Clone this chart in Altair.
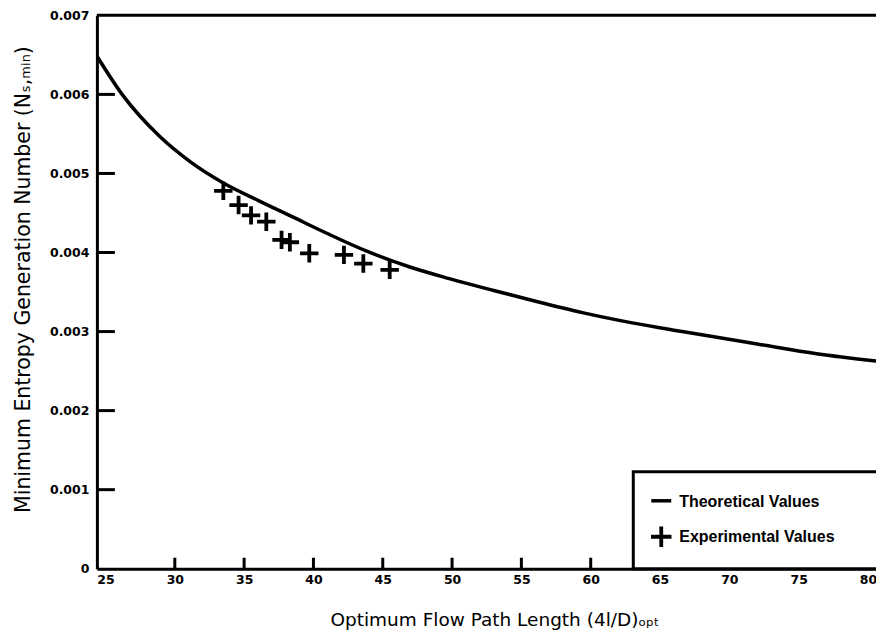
import altair as alt
import pandas as pd

# ---- data ----
theory_x = [24.4, 26.2, 28.9, 31.1, 33.5, 36.0, 38.5, 41.0, 43.8, 46.9,
            49.8, 53.0, 56.1, 59.4, 63.0, 66.6, 72.1, 76.3, 81.0]
theory_y = [0.00648, 0.00600, 0.00547, 0.00515, 0.00488, 0.00466, 0.00445,
            0.00424, 0.00402, 0.00382, 0.00367, 0.00352, 0.00338, 0.00324,
            0.00311, 0.00300, 0.00284, 0.00272, 0.00262]

exp_x = [33.5, 34.6, 35.5, 36.6, 37.7, 38.3, 39.7, 42.2, 43.6, 45.5]
exp_y = [0.00478, 0.00460, 0.00447, 0.00439, 0.00416, 0.00413, 0.00399,
         0.00397, 0.00386, 0.00378]

x_tick_labels = [25, 30, 35, 40, 45, 50, 55, 60, 65, 70, 75, 80]
x_tick_marks = [30, 35, 40, 45, 50, 55, 60, 65, 70, 75, 80]
y_tick_labels = [0, 0.001, 0.002, 0.003, 0.004, 0.005, 0.006, 0.007]
y_tick_marks = [0.001, 0.002, 0.003, 0.004, 0.005, 0.006]
legend_labels = ["Theoretical Values", "Experimental Values"]

x_title = "Optimum Flow Path Length (4l/D)ₒₚₜ"
y_title = "Minimum Entropy Generation Number (Nₛ,ₘᵢₙ)"

# ---- layout ----
W, H = 780, 554
xs = alt.Scale(domain=[24.38, 80.58], nice=False, zero=False)
ys = alt.Scale(domain=[0, 0.007], nice=False, zero=False)
LBL_FONT = "DejaVu Sans"
TTL_FONT = "DejaVu Sans"
LEG_FONT = "Liberation Sans"

x_axis = alt.Axis(
    values=x_tick_labels, title=x_title, ticks=False, grid=False,
    domainColor="black", domainWidth=3, labelPadding=5,
    labelFont=LBL_FONT, labelFontWeight="bold", labelFontSize=12.5, labelColor="black",
    titleFont=TTL_FONT, titleFontWeight="normal", titleFontSize=18.5, titleColor="black",
    titlePadding=24, titleX=398)
y_axis = alt.Axis(
    values=y_tick_labels, title=y_title, ticks=False, grid=False,
    labelExpr="datum.value == 0 ? '0' : format(datum.value, '.3f')",
    domainColor="black", domainWidth=3, labelPadding=8,
    labelFont=LBL_FONT, labelFontWeight="bold", labelFontSize=12.5, labelColor="black",
    titleFont=TTL_FONT, titleFontWeight="normal", titleFontSize=20.5, titleColor="black",
    titlePadding=16, titleY=264)

theory = pd.DataFrame({"x": theory_x, "y": theory_y})
exp = pd.DataFrame({"x": exp_x, "y": exp_y})

line = alt.Chart(theory).mark_line(
    color="black", strokeWidth=3.5, interpolate="monotone", clip=True
).encode(
    x=alt.X("x:Q", scale=xs, axis=x_axis),
    y=alt.Y("y:Q", scale=ys, axis=y_axis),
)

plus_path = "M-1,0L1,0M0,-1L0,1"
points = alt.Chart(exp).mark_point(
    shape=plus_path, filled=False, stroke="black", strokeWidth=3.8, size=340, opacity=1
).encode(
    x=alt.X("x:Q", scale=xs, axis=x_axis),
    y=alt.Y("y:Q", scale=ys, axis=y_axis),
)

top_border = alt.Chart(pd.DataFrame({"y": [0.007]})).mark_rule(
    color="black", strokeWidth=3
).encode(y=alt.Y("y:Q", scale=ys, axis=y_axis))

xticks = alt.Chart(pd.DataFrame({"x": x_tick_marks})).mark_rule(
    color="black", strokeWidth=3
).encode(x=alt.X("x:Q", scale=xs, axis=x_axis), y=alt.value(H), y2=alt.value(H - 11))

yticks = alt.Chart(pd.DataFrame({"y": y_tick_marks})).mark_rule(
    color="black", strokeWidth=3
).encode(y=alt.Y("y:Q", scale=ys, axis=y_axis), x=alt.value(0), x2=alt.value(18))

# ---- legend box ----
one = pd.DataFrame({"a": [0]})
leg_box = alt.Chart(one).mark_rect(
    fill="white", stroke="black", strokeWidth=3
).encode(x=alt.value(537), x2=alt.value(W + 20), y=alt.value(457), y2=alt.value(H))

leg_line = alt.Chart(one).mark_rule(color="black", strokeWidth=3.5).encode(
    x=alt.value(555), x2=alt.value(575), y=alt.value(486))
leg_plus = alt.Chart(one).mark_point(
    shape=plus_path, filled=False, stroke="black", strokeWidth=3.8, size=420, opacity=1
).encode(x=alt.value(565), y=alt.value(522))

leg_t1 = alt.Chart(pd.DataFrame({"label": [legend_labels[0]]})).mark_text(
    align="left", baseline="middle", font=LEG_FONT, fontWeight="bold", fontSize=16, color="black"
).encode(text="label:N", x=alt.value(583), y=alt.value(487))
leg_t2 = alt.Chart(pd.DataFrame({"label": [legend_labels[1]]})).mark_text(
    align="left", baseline="middle", font=LEG_FONT, fontWeight="bold", fontSize=16, color="black"
).encode(text="label:N", x=alt.value(583), y=alt.value(522))

chart = alt.layer(
    line, points, top_border, xticks, yticks, leg_box, leg_line, leg_plus, leg_t1, leg_t2
).properties(
    width=W, height=H,
    autosize=alt.AutoSizeParams(type="none"),
    padding={"left": 89, "top": 7, "right": 0, "bottom": 65},
).configure_view(stroke=None).configure(background="white")

chart.save("out.html", embed_options={"renderer": "svg", "actions": False})
